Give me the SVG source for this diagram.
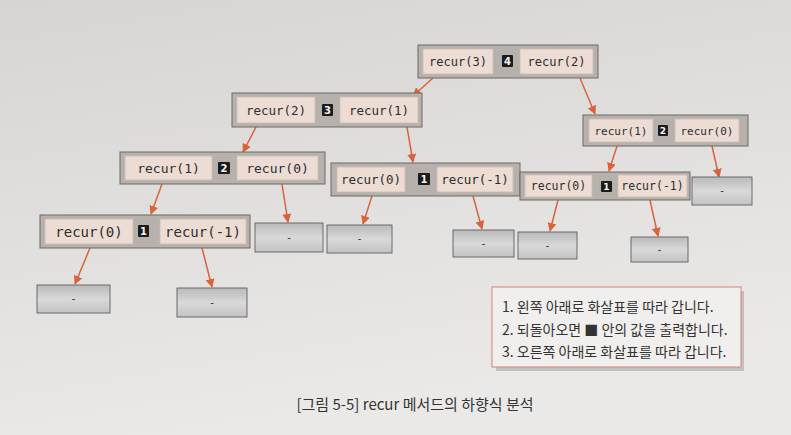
<svg xmlns="http://www.w3.org/2000/svg" width="791" height="435" viewBox="0 0 791 435">
<defs>
<linearGradient id="bg" x1="0" y1="0" x2="0.3" y2="1">
<stop offset="0" stop-color="#d7d5d3"/>
<stop offset="1" stop-color="#ebe9e7"/>
</linearGradient>
<linearGradient id="gbox" x1="0" y1="0" x2="0" y2="1">
<stop offset="0" stop-color="#b9b9b9"/>
<stop offset="0.5" stop-color="#d9d9d9"/>
<stop offset="1" stop-color="#c3c3c3"/>
</linearGradient>
<marker id="ah" viewBox="0 0 10 10" refX="9" refY="5" markerWidth="9" markerHeight="9" markerUnits="userSpaceOnUse" orient="auto">
<path d="M0,0 L10,5 L0,10 z" fill="#d9643c"/>
</marker>
<style>
.outer{fill:#b7b1ad;stroke:#6d6865;stroke-width:1}
.cell{fill:#ecdcd3;stroke:#cdbdb5;stroke-width:0.8}
.badge{fill:#1c1c1c}
.bt{font-family:"DejaVu Sans",sans-serif;font-weight:bold;fill:#f2f2f2;text-anchor:middle}
.code{font-family:"DejaVu Sans Mono","Liberation Mono",monospace;fill:#2e2e2e;text-anchor:middle}
.leaf rect{fill:url(#gbox);stroke:#6a6a6a;stroke-width:1}
.leaf text{font-family:"DejaVu Sans",sans-serif;font-size:10px;fill:#333;text-anchor:middle}
.conn line{stroke:#d9643c;stroke-width:1.5;marker-end:url(#ah)}
.legend text{font-family:"Noto Sans CJK KR","Noto Sans",sans-serif;font-size:14px;fill:#333}
.cap{font-family:"Noto Sans CJK KR","Noto Sans",sans-serif;font-size:15px;fill:#333}
</style>
</defs>
<rect x="0" y="0" width="791" height="435" fill="url(#bg)"/>

<g id="connectors" class="conn">
<line x1="433" y1="78" x2="413" y2="96"/>
<line x1="580" y1="78" x2="595" y2="114"/>
<line x1="256" y1="127" x2="243" y2="152"/>
<line x1="407" y1="127" x2="413" y2="162"/>
<line x1="162" y1="184" x2="151" y2="214"/>
<line x1="282" y1="184" x2="288" y2="222"/>
<line x1="372" y1="196" x2="363" y2="224"/>
<line x1="473" y1="196" x2="482" y2="229"/>
<line x1="617" y1="146" x2="609" y2="171"/>
<line x1="712" y1="146" x2="719" y2="177"/>
<line x1="558" y1="200" x2="550" y2="231"/>
<line x1="650" y1="200" x2="658" y2="236"/>
<line x1="90" y1="248" x2="75" y2="284"/>
<line x1="202" y1="248" x2="212" y2="287"/>
</g>

<g id="nodeA">
<rect class="outer" x="418" y="45" width="180" height="33"/>
<rect class="cell" x="423" y="49" width="70" height="25"/>
<text class="code" x="458" y="66" font-size="12">recur(3)</text>
<rect class="badge" x="502" y="55" width="11" height="12" rx="1"/>
<text class="bt" x="507.5" y="65" font-size="10">4</text>
<rect class="cell" x="520" y="49" width="73" height="25"/>
<text class="code" x="556.5" y="66" font-size="12">recur(2)</text>
</g>

<g id="nodeB">
<rect class="outer" x="232" y="93" width="190" height="34"/>
<rect class="cell" x="237" y="97" width="78" height="26"/>
<text class="code" x="276" y="115" font-size="12.5">recur(2)</text>
<rect class="badge" x="322" y="104" width="11" height="12" rx="1"/>
<text class="bt" x="327.5" y="114" font-size="10">3</text>
<rect class="cell" x="340" y="97" width="78" height="26"/>
<text class="code" x="379" y="115" font-size="12.5">recur(1)</text>
</g>

<g id="nodeC">
<rect class="outer" x="120" y="152" width="205" height="32"/>
<rect class="cell" x="125" y="156" width="87" height="24"/>
<text class="code" x="168.5" y="173" font-size="13">recur(1)</text>
<rect class="badge" x="218" y="162" width="12" height="12" rx="1"/>
<text class="bt" x="224" y="172" font-size="10">2</text>
<rect class="cell" x="237" y="156" width="81" height="24"/>
<text class="code" x="277.5" y="173" font-size="13">recur(0)</text>
</g>

<g id="nodeD">
<rect class="outer" x="331" y="163" width="189" height="33"/>
<rect class="cell" x="337" y="167" width="68" height="25"/>
<text class="code" x="371" y="184" font-size="12.5">recur(0)</text>
<rect class="badge" x="418" y="173" width="12" height="12" rx="1"/>
<text class="bt" x="424" y="183" font-size="10">1</text>
<rect class="cell" x="437" y="167" width="76" height="25"/>
<text class="code" x="475" y="184" font-size="12.5">recur(-1)</text>
</g>

<g id="nodeE">
<rect class="outer" x="583" y="115" width="165" height="31"/>
<rect class="cell" x="589" y="119" width="64" height="23"/>
<text class="code" x="621" y="135" font-size="11">recur(1)</text>
<rect class="badge" x="658" y="125" width="10" height="11" rx="1"/>
<text class="bt" x="663" y="134" font-size="9">2</text>
<rect class="cell" x="675" y="119" width="64" height="23"/>
<text class="code" x="707" y="135" font-size="11">recur(0)</text>
</g>

<g id="nodeF">
<rect class="outer" x="520" y="172" width="170" height="28"/>
<rect class="cell" x="525" y="175" width="67" height="22"/>
<text class="code" x="558.5" y="190" font-size="11.5">recur(0)</text>
<rect class="badge" x="601" y="181" width="11" height="11" rx="1"/>
<text class="bt" x="606.5" y="190" font-size="9">1</text>
<rect class="cell" x="618" y="175" width="69" height="22"/>
<text class="code" x="652.5" y="190" font-size="11.5">recur(-1)</text>
</g>

<g id="nodeH">
<rect class="outer" x="40" y="215" width="210" height="33"/>
<rect class="cell" x="45" y="219" width="88" height="25"/>
<text class="code" x="89" y="237" font-size="14">recur(0)</text>
<rect class="badge" x="138" y="225" width="11" height="12" rx="1"/>
<text class="bt" x="143.5" y="235" font-size="10">1</text>
<rect class="cell" x="160" y="219" width="86" height="25"/>
<text class="code" x="203" y="237" font-size="14">recur(-1)</text>
</g>

<g id="leafG1" class="leaf"><rect x="692" y="177" width="60" height="28"/><text x="722" y="194">-</text></g>
<g id="leafI1" class="leaf"><rect x="255" y="223" width="68" height="29"/><text x="289" y="241">-</text></g>
<g id="leafI2" class="leaf"><rect x="327" y="225" width="65" height="28"/><text x="359.5" y="242">-</text></g>
<g id="leafI3" class="leaf"><rect x="453" y="230" width="61" height="27"/><text x="483.5" y="247">-</text></g>
<g id="leafI4" class="leaf"><rect x="518" y="232" width="59" height="27"/><text x="547.5" y="249">-</text></g>
<g id="leafI5" class="leaf"><rect x="631" y="237" width="57" height="25"/><text x="659.5" y="253">-</text></g>
<g id="leafJ1" class="leaf"><rect x="37" y="285" width="73" height="28"/><text x="73.5" y="302">-</text></g>
<g id="leafJ2" class="leaf"><rect x="177" y="288" width="70" height="29"/><text x="212" y="306">-</text></g>

<g id="legend" class="legend">
<rect x="496" y="291" width="248" height="80" fill="#a9a6a3" opacity="0.6"/>
<rect x="492" y="287" width="249" height="80" fill="#f0efed" stroke="#d7958a" stroke-width="1.2"/>
<text x="502" y="312">1. 왼쪽 아래로 화살표를 따라 갑니다.</text>
<text x="502" y="335">2. 되돌아오면 ■ 안의 값을 출력합니다.</text>
<text x="502" y="357">3. 오른쪽 아래로 화살표를 따라 갑니다.</text>
</g>

<text class="cap" x="415" y="410" text-anchor="middle">[그림 5-5] recur 메서드의 하향식 분석</text>
</svg>
